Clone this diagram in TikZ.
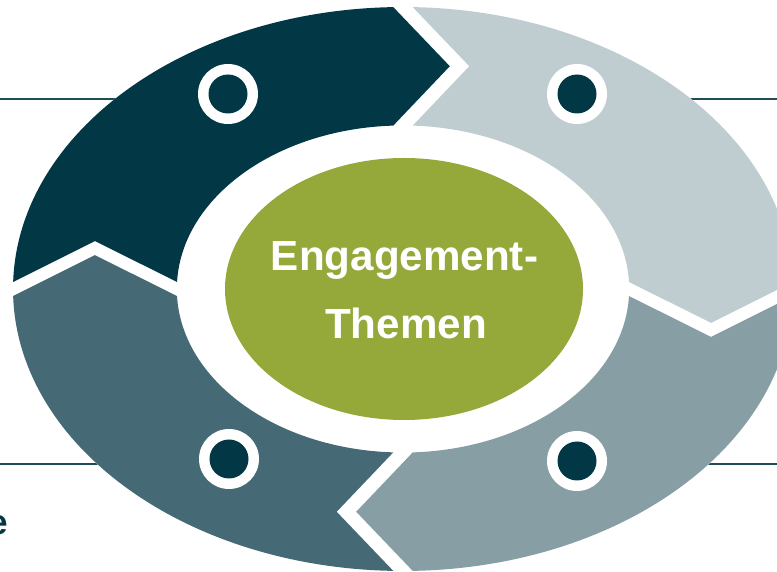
\documentclass[tikz,border=0pt]{standalone}
\usepackage{fontspec}
\setmainfont{Liberation Sans}
\definecolor{dunkel}{HTML}{023845}
\definecolor{hell}{HTML}{BFCDD1}
\definecolor{grau}{HTML}{869EA4}
\definecolor{schiefer}{HTML}{466A75}
\definecolor{gruen}{HTML}{95A83A}
\definecolor{linie}{HTML}{1E4D5A}

\begin{document}
\begin{tikzpicture}[x=0.02cm, y=0.02cm,
    trennlinie/.style={line width=0.6pt, linie},
    titel/.style={anchor=base, inner sep=0pt, text=white, font=\fontsize{24}{28}\selectfont\bfseries}]
    \useasboundingbox (0,0) rectangle (777,571);

    % Hilfslinien im Hintergrund
    \draw[trennlinie] (0,472) -- (777,472);
    \draw[trennlinie] (0,107) -- (777,107);

    % Ring aus vier Pfeilsegmenten
    \fill[white] (403,282) ellipse [x radius=390, y radius=282];
    \begin{scope}[shift={(403,282)}, xscale=390, yscale=282]
        \foreach \rot/\farbe in {0/dunkel, -90/hell, -180/grau, -270/schiefer} {
            \fill[\farbe, rotate=\rot]
                (178.57:1) arc[start angle=178.57, end angle=91.43, radius=1]
                -- (0.12,0.79)
                -- (92.47:0.58) arc[start angle=92.47, end angle=177.53, radius=0.58]
                -- (-0.79,0.17) -- cycle;
        }
    \end{scope}

    % Markierungen
    \foreach \name/\px/\py in {mA/228/477, mB/577/477, mC/229/112, mD/577/110} {
        \fill[white] (\px,\py) circle (30);
        \fill[dunkel] (\px,\py) circle (19.5) coordinate (\name);
    }

    % Mitte
    \fill[gruen] (404,282) ellipse [x radius=179, y radius=131];
    \node[titel] (zeileA) at (404.5,300) {Engagement-};
    \node[titel] (zeileB) at (406,232) {Themen};

    % angeschnittener Buchstabe links unten
    \node[anchor=base east, inner sep=0pt, text=dunkel, font=\fontsize{20}{24}\selectfont\bfseries] (rest) at (8,36) {e};
\end{tikzpicture}
\end{document}
